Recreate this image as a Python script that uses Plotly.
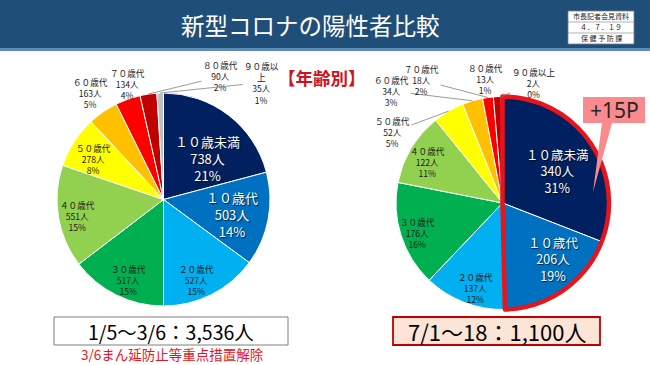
import math
import plotly.graph_objects as go

W, H = 650, 365

# ---------------- data ----------------
age_labels = ['１０歳未満', '１０歳代', '２０歳代', '３０歳代', '４０歳代',
              '５０歳代', '６０歳代', '７０歳代', '８０歳代', '９０歳以上']
left_counts = [738, 503, 527, 517, 551, 278, 163, 134, 90, 35]
left_pct = [21, 14, 15, 15, 15, 8, 5, 4, 2, 1]
right_counts = [340, 206, 137, 176, 122, 52, 34, 18, 13, 2]
right_pct = [31, 19, 12, 16, 11, 5, 3, 2, 1, 0]
slice_colors = ['#002060', '#0070C0', '#00B0F0', '#00B050', '#92D050',
                '#FFFF00', '#FFC000', '#FF0000', '#C00000', '#BFBFBF']
left_total_text = '1/5～3/6：3,536人'
right_total_text = '7/1～18：1,100人'
left_note = '3/6まん延防止等重点措置解除'
title_text = '新型コロナの陽性者比較'
subtitle_text = '【年齢別】'
callout_text = '+15P'
stamp_rows = ['市長記者会見資料', '４．７．１９', '保 健 予 防 課']

JP = 'Noto Sans CJK JP'

# ---------------- layout helpers (pixels) ----------------
def px(x):
    return x / W

def py(y):
    return 1 - y / H

# label placement: offset of label centre from pie centre (px); True -> leader line
left_place = [(44, -41, False), (68, 15, False), (33, 80, False), (-35, 80, False),
              (-86, 17, False), (-70, -40, False), (-73, -106, True), (-36, -116, False),
              (57, -123, True), (98, -117, True)]
right_place = [(55, -32, False), (51, 56, False), (-27, 85, False), (-85, 30, False),
               (-75, -41, False), (-110, -71, True), (-111, -112, True), (-81, -123, True),
               (-17, -124, False), (31, -120, True)]

pies = [
    dict(counts=left_counts, pct=left_pct, cx=163.5, cy=199.5, r=106.5, place=left_place,
         big=13, small=8.6, names=[l if l != '９０歳以上' else '９０歳以<br>上' for l in age_labels]),
    dict(counts=right_counts, pct=right_pct, cx=502.5, cy=203, r=106.5, place=right_place,
         big=12.5, small=8.6, names=age_labels),
]

fig = go.Figure()
annotations = []
shapes = []

for p in pies:
    cx, cy, r = p['cx'], p['cy'], p['r']
    dom = dict(x=[px(cx - r), px(cx + r)], y=[py(cy + r), py(cy - r)])
    fig.add_trace(go.Pie(
        values=p['counts'], labels=age_labels, sort=False, direction='clockwise', rotation=0,
        marker=dict(colors=slice_colors, line=dict(color='white', width=1)),
        textinfo='none', hoverinfo='label+value', domain=dom, showlegend=False))
    total = sum(p['counts'])
    cum = 0
    for i, c in enumerate(p['counts']):
        mid = (cum + c / 2) / total
        cum += c
        theta = 2 * math.pi * mid
        tipx = cx + r * math.sin(theta)
        tipy = cy - r * math.cos(theta)
        dx, dy, arrow = p['place'][i]
        lx, ly = cx + dx, cy + dy
        big = i < 2
        text = f"{p['names'][i]}<br>{c}人<br>{p['pct'][i]}%"
        font = dict(family=JP, size=p['big'] if big else p['small'],
                    color='white' if big else '#1a1a1a')
        if big:
            font['shadow'] = '1px 1px 1px rgba(0,0,0,0.7)'
        if arrow:
            annotations.append(dict(x=px(tipx), y=py(tipy), xref='paper', yref='paper',
                                    ax=lx - tipx, ay=ly - tipy, text=text, showarrow=True,
                                    arrowhead=0, arrowwidth=0.8, arrowcolor='#808080',
                                    standoff=0, font=font, align='center'))
        else:
            annotations.append(dict(x=px(lx), y=py(ly), xref='paper', yref='paper',
                                    text=text, showarrow=False, font=font, align='center',
                                    xanchor='center', yanchor='middle'))

# red outline around the first two slices of the right pie
rp = pies[1]
n_hi = 2
hi_vals = [sum(right_counts[:n_hi]), sum(right_counts[n_hi:])]
fig.add_trace(go.Pie(
    values=hi_vals, sort=False, direction='clockwise', rotation=0,
    marker=dict(colors=['rgba(0,0,0,0)', 'rgba(0,0,0,0)'],
                line=dict(color=['#E8141B', 'rgba(0,0,0,0)'], width=[4.5, 0])),
    textinfo='none', hoverinfo='skip', showlegend=False,
    domain=dict(x=[px(rp['cx'] - rp['r']), px(rp['cx'] + rp['r'])],
                y=[py(rp['cy'] + rp['r']), py(rp['cy'] - rp['r'])])))

def rect(x0, y0, x1, y1, fill, line_color=None, lw=0, layer='below'):
    return dict(type='rect', xref='paper', yref='paper', x0=px(x0), x1=px(x1),
                y0=py(y1), y1=py(y0), fillcolor=fill,
                line=dict(color=line_color or fill, width=lw), layer=layer)

# header
shapes.append(rect(0, 0, W, 48, '#1F4E79'))
shapes.append(rect(0, 48, W, 51, '#5B8DB8'))
annotations.append(dict(x=px(310), y=py(25), xref='paper', yref='paper', text=title_text,
                        showarrow=False, font=dict(family=JP, size=23.5, color='white'),
                        xanchor='center', yanchor='middle'))
# stamp box
shapes.append(rect(568, 11, 634, 44, 'white', '#7f7f7f', 0.8, 'above'))
for yy in (22, 33):
    shapes.append(dict(type='line', xref='paper', yref='paper', x0=px(568), x1=px(634),
                       y0=py(yy), y1=py(yy), line=dict(color='#7f7f7f', width=0.6)))
for k, t in enumerate(stamp_rows):
    annotations.append(dict(x=px(601), y=py(16.5 + 11 * k), xref='paper', yref='paper', text=t,
                            showarrow=False, font=dict(family=JP, size=7, color='#222'),
                            xanchor='center', yanchor='middle'))

# subtitle
annotations.append(dict(x=px(322), y=py(77), xref='paper', yref='paper', text=f'<b>{subtitle_text}</b>',
                        showarrow=False, font=dict(family=JP, size=17.5, color='#D0101E'),
                        xanchor='center', yanchor='middle'))

# callout +15P
pts = [(583, 97), (645, 97), (645, 123), (612, 123), (593, 192), (602, 123), (583, 123)]
path = 'M ' + ' L '.join(f'{px(x):.5f},{py(y):.5f}' for x, y in pts) + ' Z'
shapes.append(dict(type='path', xref='paper', yref='paper', path=path,
                   fillcolor='#F98A8E', line=dict(width=0), layer='above'))
annotations.append(dict(x=px(614), y=py(110), xref='paper', yref='paper', text=callout_text,
                        showarrow=False, font=dict(family='Noto Sans', size=21, color='#262626'),
                        xanchor='center', yanchor='middle'))

# bottom total boxes
shapes.append(rect(54, 317, 288, 345, 'white', '#7f7f7f', 1))
annotations.append(dict(x=px(171), y=py(331), xref='paper', yref='paper', text=left_total_text,
                        showarrow=False, font=dict(family=JP, size=19.5, color='black'),
                        xanchor='center', yanchor='middle'))
annotations.append(dict(x=px(172), y=py(354), xref='paper', yref='paper', text=left_note,
                        showarrow=False, font=dict(family=JP, size=13.5, color='#E8141B'),
                        xanchor='center', yanchor='middle'))
shapes.append(rect(393, 317, 600, 345, '#FCE4D6', '#C00000', 1.8))
annotations.append(dict(x=px(496.5), y=py(331), xref='paper', yref='paper', text=right_total_text,
                        showarrow=False, font=dict(family=JP, size=22, color='black'),
                        xanchor='center', yanchor='middle'))

fig.update_layout(width=W, height=H, margin=dict(l=0, r=0, t=0, b=0),
                  paper_bgcolor='white', plot_bgcolor='white', showlegend=False,
                  shapes=shapes, annotations=annotations)

fig.write_html('out.html', config={'displayModeBar': False},
               post_script="document.body.style.margin='0';document.body.style.overflow='hidden';")
